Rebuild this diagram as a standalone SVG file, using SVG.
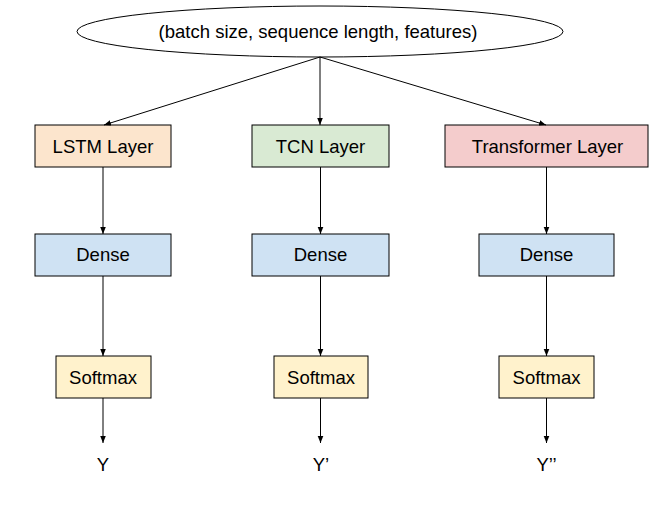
<svg xmlns="http://www.w3.org/2000/svg" width="661" height="508" viewBox="0 0 661 508">
<defs>
<marker id="ah" viewBox="0 0 10 10" refX="10" refY="5" markerWidth="7" markerHeight="7" markerUnits="userSpaceOnUse" orient="auto">
<path d="M0,1 L10,5 L0,9 Z" fill="#000"/>
</marker>
</defs>
<style>
text{font-family:"Liberation Sans",Arial,sans-serif;font-size:18.5px;fill:#000;text-anchor:middle}
.box{stroke:#000;stroke-width:1}
.lstm{fill:#fce5cd}.tcn{fill:#d9ead3}.trf{fill:#f4cccc}.dense{fill:#cfe2f3}.soft{fill:#fff2cc}
.conn line{stroke:#000;stroke-width:1;marker-end:url(#ah)}
</style>
<rect width="661" height="508" fill="#fff"/>
<g id="input">
<ellipse cx="320" cy="31.5" rx="243" ry="25.5" fill="#fff" stroke="#000" stroke-width="1"/>
<text x="318" y="38">(batch size, sequence length, features)</text>
</g>
<g id="lstm"><rect class="box lstm" x="35" y="125" width="136" height="42"/><text x="103" y="152.5">LSTM Layer</text></g>
<g id="tcn"><rect class="box tcn" x="252" y="125" width="137" height="42"/><text x="320.5" y="152.5">TCN Layer</text></g>
<g id="transformer"><rect class="box trf" x="445" y="125" width="203" height="42"/><text x="547.5" y="152.5">Transformer Layer</text></g>
<g id="dense1"><rect class="box dense" x="35" y="234" width="136" height="42"/><text x="103" y="261">Dense</text></g>
<g id="dense2"><rect class="box dense" x="252" y="234" width="137" height="42"/><text x="320.5" y="261">Dense</text></g>
<g id="dense3"><rect class="box dense" x="479" y="234" width="135" height="42"/><text x="546.5" y="261">Dense</text></g>
<g id="softmax1"><rect class="box soft" x="56" y="356" width="95" height="42"/><text x="103" y="383.5">Softmax</text></g>
<g id="softmax2"><rect class="box soft" x="274" y="356" width="94" height="42"/><text x="321" y="383.5">Softmax</text></g>
<g id="softmax3"><rect class="box soft" x="499" y="356" width="95" height="42"/><text x="546.5" y="383.5">Softmax</text></g>
<g id="out1"><text x="103" y="471">Y</text></g>
<g id="out2"><text x="321" y="471">Y’</text></g>
<g id="out3"><text x="546.5" y="471">Y’’</text></g>
<g class="conn" id="connectors">
<line x1="320" y1="57" x2="104" y2="125"/>
<line x1="320" y1="57" x2="320" y2="125"/>
<line x1="320" y1="57" x2="546" y2="125"/>
<line x1="103" y1="167" x2="103" y2="234"/>
<line x1="320.5" y1="167" x2="320.5" y2="234"/>
<line x1="546.5" y1="167" x2="546.5" y2="234"/>
<line x1="103" y1="276" x2="103" y2="356"/>
<line x1="320.5" y1="276" x2="320.5" y2="356"/>
<line x1="546.5" y1="276" x2="546.5" y2="356"/>
<line x1="103" y1="398" x2="103" y2="443"/>
<line x1="320.5" y1="398" x2="320.5" y2="443"/>
<line x1="546.5" y1="398" x2="546.5" y2="443"/>
</g>
</svg>
